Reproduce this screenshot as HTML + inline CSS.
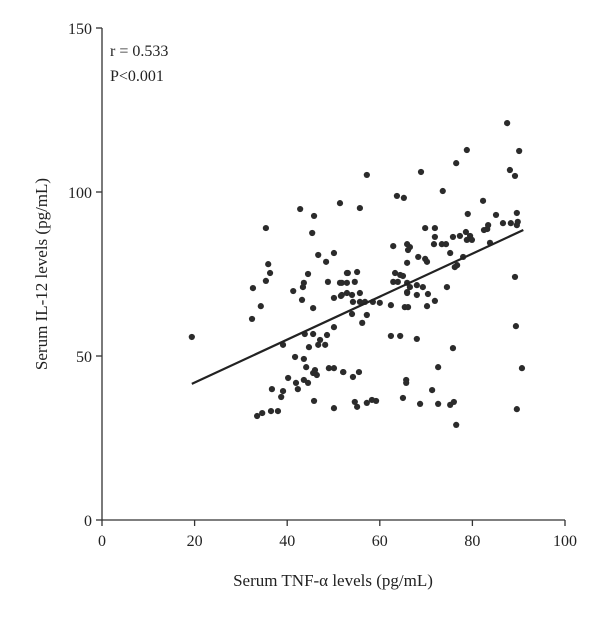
<!DOCTYPE html>
<html><head><meta charset="utf-8"><style>
body{margin:0;background:#fff;}
svg{display:block;font-family:"Liberation Serif",serif;}
</style></head><body>
<svg id="chart" width="600" height="618">
<g id="axes"></g>
<g id="pts"></g>
<text x="110" y="56" font-size="16" fill="#222">r = 0.533</text>
<text x="110" y="81" font-size="16" fill="#222">P&lt;0.001</text>
<text x="333" y="586" font-size="17" fill="#222" text-anchor="middle">Serum TNF-α levels (pg/mL)</text>
<text transform="translate(47,274) rotate(-90)" font-size="17" fill="#222" text-anchor="middle">Serum IL-12 levels (pg/mL)</text>
</svg>
<script>
const xTicks=[0,20,40,60,80,100];
const yTicks=[0,50,100,150];
const fitLine=[0.655,28.8];
const fitRange=[19.4,91];
const tnf=[19.4,32.4,34.3,32.6,35.4,35.9,36.3,35.4,42.8,45.8,45.4,51.4,46.7,48.4,50.1,44.5,43.6,43.4,41.3,43.2,45.6,48.8,51.8,53.1,50.1,51.6,50.1,48.6,47.1,48.2,46.7,44.7,43.8,45.6,39.1,41.7,43.6,44.1,46.0,46.4,45.6,49.0,50.1,52.1,40.2,41.9,42.3,43.6,44.5,36.7,39.1,38.7,45.8,50.1,33.5,34.6,36.5,38.0,
57.2,63.7,65.2,68.9,76.5,78.8,87.5,90.1,88.1,89.2,73.6,82.3,85.1,79.0,89.6,55.7,69.8,71.9,71.9,71.7,73.4,74.3,75.8,77.3,78.6,79.5,78.8,79.9,82.5,83.2,83.4,86.6,88.3,89.6,89.8,83.8,75.2,78.0,76.7,76.2,62.9,65.9,66.5,66.1,68.3,69.8,70.2,65.9,63.3,64.4,65.0,62.9,63.9,65.9,66.5,68.0,69.3,74.5,65.9,65.9,68.0,70.4,71.9,70.2,65.4,66.1,62.4,51.4,52.9,55.1,52.9,54.6,51.8,52.9,54.0,55.7,54.2,55.7,56.8,58.5,60.0,54.0,56.2,57.2,89.2,89.4,90.7,89.6,62.4,64.4,68.0,75.8,72.6,52.1,54.2,55.5,65.7,65.7,71.3,54.6,55.1,57.2,58.3,59.2,65.0,68.7,72.6,75.2,76.0,76.5];
const il12=[55.8,61.3,65.2,70.7,89.0,78.0,75.3,72.9,94.8,92.7,87.5,96.6,80.8,78.7,81.4,75.0,72.3,71.0,69.8,67.1,64.6,72.6,72.3,75.3,67.7,68.3,58.8,56.4,54.9,53.4,53.4,52.7,56.7,56.7,53.4,49.7,49.1,46.6,45.7,44.2,44.8,46.3,46.3,45.1,43.3,41.8,39.9,42.7,41.8,39.9,39.3,37.5,36.3,34.1,31.7,32.6,33.2,33.2,
105.2,98.8,98.2,106.1,108.8,112.8,121.0,112.5,106.7,104.9,100.3,97.3,93.0,93.3,93.6,95.1,89.0,89.0,86.3,84.1,84.1,84.1,86.3,86.6,87.8,86.6,85.4,85.4,88.4,88.7,89.9,90.5,90.5,89.9,90.9,84.5,81.4,80.2,77.7,77.1,83.5,84.1,83.2,82.3,80.2,79.6,78.7,78.4,75.3,74.7,74.4,72.6,72.6,72.3,71.0,71.6,71.0,71.0,69.5,69.2,68.6,68.9,66.8,65.2,64.9,64.9,65.5,72.3,75.3,75.6,72.3,72.6,68.6,69.2,68.6,69.2,66.5,66.5,66.5,66.5,66.2,62.8,60.1,62.5,74.1,59.1,46.3,33.8,56.1,56.1,55.2,52.4,46.6,45.1,43.6,45.1,42.7,41.8,39.6,36.0,34.5,35.7,36.6,36.3,37.2,35.4,35.4,35.1,36.0,29.0];
const NS='http://www.w3.org/2000/svg';
const X=v=>102+v*4.63, Y=v=>520-v*3.28;
const ax=document.getElementById('axes'), pts=document.getElementById('pts');
function mk(tag,attrs,parent){const e=document.createElementNS(NS,tag);for(const k in attrs)e.setAttribute(k,attrs[k]);parent.appendChild(e);return e;}
const xl=mk('line',{x1:X(0),y1:Y(0),x2:X(100),y2:Y(0),stroke:'#333','stroke-width':1.3},ax);


const yl=mk('line',{x1:X(0),y1:Y(0),x2:X(0),y2:Y(150),stroke:'#333','stroke-width':1.3},ax);


xTicks.forEach(t=>{
 const tk=mk('line',{x1:X(t),y1:Y(0),x2:X(t),y2:Y(0)+6,stroke:'#333','stroke-width':1.3},ax);
 
 
 const tx=mk('text',{x:X(t),y:Y(0)+26,'font-size':16,fill:'#222','text-anchor':'middle'},ax);
 tx.textContent=t;
 
 
});
yTicks.forEach(t=>{
 const tk=mk('line',{x1:X(0)-6,y1:Y(t),x2:X(0),y2:Y(t),stroke:'#333','stroke-width':1.3},ax);
 
 
 const tx=mk('text',{x:X(0)-10,y:Y(t)+6,'font-size':16,fill:'#222','text-anchor':'end'},ax);
 tx.textContent=t;
 
 
});
tnf.forEach((v,i)=>{
 const c=mk('circle',{cx:X(v),cy:Y(il12[i]),r:3.1,fill:'#2b2b2b'},pts);
 
 
});
const fl=mk('line',{x1:X(fitRange[0]),y1:Y(fitLine[1]+fitLine[0]*fitRange[0]),x2:X(fitRange[1]),y2:Y(fitLine[1]+fitLine[0]*fitRange[1]),stroke:'#222','stroke-width':2.2},pts);


</script>
</body></html>
